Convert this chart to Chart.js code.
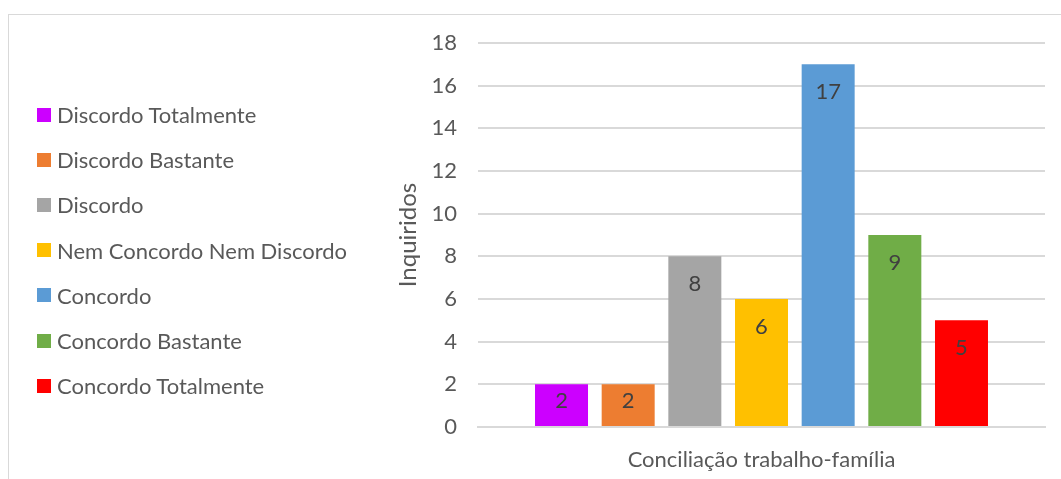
<!DOCTYPE html>
<html>
<head>
<meta charset="utf-8">
<script src="https://cdn.jsdelivr.net/npm/chart.js@4"></script>
<style>
    html, body { margin:0; padding:0; background:#fff; overflow:hidden; }
    #frame { position:absolute; left:8px; top:14px; width:1100px; height:520px; border:1px solid #d9d9d9; }
    #wrap { position:absolute; left:0; top:0; width:1061px; height:479px; }
    #legend { position:absolute; left:37px; top:92px; margin:0; padding:0; list-style:none;
              font-family:Lato, "Noto Sans", sans-serif; font-size:22px; color:#595959; }
    #legend li { height:45.2px; display:flex; align-items:center; white-space:nowrap; }
    #legend span { display:inline-block; width:14px; height:14px; margin-right:6px; }
</style>
</head>
<body>
<div id="frame"></div>
<div id="wrap"><canvas id="myChart"></canvas></div>
<ul id="legend"></ul>
<script>
const categories = ['Conciliação trabalho-família'];
const answers = ['Discordo Totalmente', 'Discordo Bastante', 'Discordo', 'Nem Concordo Nem Discordo', 'Concordo', 'Concordo Bastante', 'Concordo Totalmente'];
const counts = [2, 2, 8, 6, 17, 9, 5];
const colors = ['#cc00ff', '#ed7d31', '#a5a5a5', '#ffc000', '#5b9bd5', '#70ad47', '#ff0000'];
const yTicks = [0, 2, 4, 6, 8, 10, 12, 14, 16, 18];

const FONT = 'Lato, "Noto Sans", sans-serif';
const GREY = '#595959';

let datasets = [];
for(let i = 0; i < answers.length; i++){
    datasets.push({
        label: answers[i],
        data: [counts[i]],
        backgroundColor: colors[i],
        borderWidth: 0,
        categoryPercentage: 0.823,
        barPercentage: 0.795
    });
}

// value written just under the top of each bar
const barValues = {
    id: 'barValues',
    afterDatasetsDraw(chart){
        let ctx = chart.ctx;
        ctx.save();
        ctx.font = '22px ' + FONT;
        ctx.fillStyle = '#404040';
        ctx.textAlign = 'center';
        ctx.textBaseline = 'middle';
        chart.data.datasets.forEach((ds, i) => {
            chart.getDatasetMeta(i).data.forEach((bar, j) => {
                let h = bar.base - bar.y;
                let off = Math.min(28, h / 2 - 4);
                ctx.fillText(ds.data[j], bar.x, bar.y + off);
            });
        });
        ctx.restore();
    }
};

// legend list on the left, built from the chart's own legend items
const htmlLegend = {
    id: 'htmlLegend',
    afterUpdate(chart){
        let ul = document.getElementById('legend');
        ul.innerHTML = '';
        let items = chart.options.plugins.legend.labels.generateLabels(chart);
        items.forEach(item => {
            let li = document.createElement('li');
            let box = document.createElement('span');
            box.style.background = item.fillStyle;
            li.appendChild(box);
            li.appendChild(document.createTextNode(item.text));
            ul.appendChild(li);
        });
    }
};

let ctx = document.getElementById('myChart').getContext('2d');
let myChart = new Chart(ctx, {
    type: 'bar',
    data: { labels: categories, datasets: datasets },
    plugins: [barValues, htmlLegend],
    options: {
        responsive: true,
        maintainAspectRatio: false,
        animation: false,
        layout: { padding: { left: 394, top: 43, right: 16, bottom: 0 } },
        plugins: {
            tooltip: { enabled: false },
            legend: { display: false }
        },
        scales: {
            x: {
                grid: { display: false, drawTicks: false },
                border: { color: '#d9d9d9', width: 2 },
                ticks: { color: GREY, padding: 20, font: { family: FONT, size: 22 } },
                afterFit(scale){ scale.height = 52; }
            },
            y: {
                min: 0,
                max: 18,
                afterBuildTicks(scale){ scale.ticks = yTicks.map(v => ({ value: v })); },
                grid: { color: '#d9d9d9', lineWidth: 2, drawTicks: false },
                border: { display: false },
                ticks: { color: GREY, padding: 21, font: { family: FONT, size: 22 } },
                title: { display: true, text: 'Inquiridos', color: GREY, padding: 0, font: { family: FONT, size: 24 } },
                afterFit(scale){ scale.width = 84; }
            }
        }
    }
});
</script>
</body>
</html>
